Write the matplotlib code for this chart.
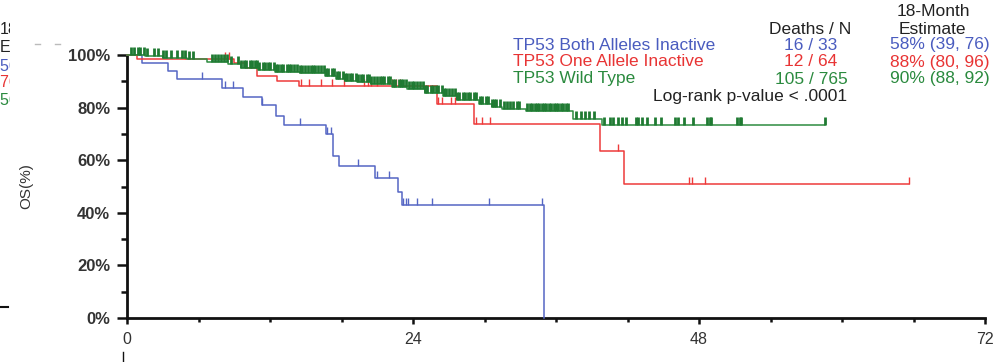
import matplotlib
matplotlib.use("Agg")
import matplotlib.pyplot as plt
import matplotlib.markers as mmarkers
from matplotlib.lines import Line2D
from matplotlib.transforms import Bbox
from matplotlib.ticker import MultipleLocator, FixedLocator

plt.rcParams['font.family'] = ['Liberation Sans', 'DejaVu Sans']

# ---------------- data ----------------
group_names = ["TP53 Both Alleles Inactive", "TP53 One Allele Inactive", "TP53 Wild Type"]
deaths_n = ["16 / 33", "12 / 64", "105 / 765"]
estimates = ["58% (39, 76)", "88% (80, 96)", "90% (88, 92)"]
pvalue_text = "Log-rank p-value < .0001"

# Both alleles inactive (months, survival % after the step)
both_t = [0, 1.3, 3.4, 4.2, 8.0, 9.7, 11.3, 12.5, 13.2, 16.7, 17.3, 17.8, 20.8, 22.7, 23.1, 35.0]
both_s = [100, 97.0, 94.0, 90.8, 87.4, 84.0, 80.8, 76.9, 73.4, 69.8, 61.6, 57.7, 53.4, 47.9, 43.0, 0]
both_cens = [6.3, 8.2, 8.9, 11.3, 14.5, 16.8, 17.1, 19.4, 21.0, 22.0, 23.2, 23.4, 23.6,
             24.3, 25.6, 30.4, 34.8]

# One allele inactive
one_t = [0, 0.8, 9.0, 10.0, 10.9, 12.6, 14.4, 26.0, 29.1, 39.7, 41.7, 65.6]
one_s = [100, 98.3, 96.8, 95.2, 92.0, 90.2, 88.3, 81.4, 73.8, 63.5, 50.8, 50.8]
one_cens = [4.9, 8.2, 8.6, 14.6, 15.3, 16.3, 17.2, 18.2, 19.9, 20.2, 20.5, 21.0, 22.2,
            22.6, 22.9, 26.1, 26.4, 27.2, 27.5, 29.3, 29.8, 30.5, 41.2, 47.2, 47.4,
            48.5, 65.6]

# Wild type
wild_t = [0, 1.5, 3.0, 5.0, 6.7, 8.5, 9.6, 11.0, 12.4, 14.5, 16.6, 17.5, 18.3, 19.3, 20.5,
          22.2, 23.5, 25.0, 26.5, 27.7, 29.5, 30.6, 31.5, 33.5, 37.4, 39.9, 58.6]
wild_s = [100, 99.5, 99.0, 98.3, 97.5, 96.6, 95.2, 94.2, 93.7, 93.0, 92.2, 91.0, 90.2, 89.6,
          88.9, 88.0, 86.9, 85.6, 84.3, 83.0, 81.5, 80.3, 79.6, 78.6, 75.8, 73.5, 73.5]
wild_cens = [0.3, 0.6, 0.9, 1.1, 1.4, 1.7, 2.3, 2.6, 3.0, 3.3, 3.7, 4.2, 4.6, 4.9, 5.2, 5.5,
             7.1, 7.4, 7.6, 7.9, 8.1, 8.4, 8.7, 9.3, 9.6, 9.8, 10.0, 10.3, 10.5, 10.7, 10.9,
             11.1, 11.4, 11.6, 11.8, 12.0, 12.3, 12.5, 12.7, 12.9, 13.1, 13.4, 13.6, 13.8,
             14.0, 14.3, 14.5, 14.7, 14.9, 15.2, 15.4, 15.6, 15.8, 16.0, 16.3, 16.5, 16.7,
             16.9, 17.2, 17.4, 17.6, 17.8, 18.1, 18.3, 18.5, 18.7, 18.9, 19.2, 19.4, 19.6,
             19.8, 20.1, 20.3, 20.5, 20.7, 21.0, 21.2, 21.4, 21.6, 21.9, 22.1, 22.3, 22.5,
             22.8, 23.0, 23.2, 23.4, 23.7, 23.9, 24.1, 24.3, 24.6, 24.8, 25.0, 25.2, 25.5,
             25.7, 25.9, 26.1, 26.4, 26.6, 26.8, 27.0, 27.3, 27.5, 27.7, 27.9, 28.2, 28.4,
             28.6, 28.8, 29.1, 29.3, 29.6, 29.8, 30.1, 30.3, 30.6, 30.8, 31.0, 31.3, 31.6,
             31.9, 32.1, 32.4, 32.7, 32.9, 33.6, 33.8, 34.0, 34.2, 34.4, 34.6, 34.8, 35.0,
             35.2, 35.4, 35.6, 35.8, 36.0, 36.2, 36.4, 36.6, 36.8, 37.0, 37.7, 38.1, 38.4,
             38.8, 39.2, 40.0, 40.5, 40.8, 41.2, 41.5, 41.9, 42.7, 42.9, 43.2, 43.6, 44.3,
             44.8, 46.0, 46.2, 46.7, 47.5, 48.7, 48.9, 49.0, 51.2, 51.4, 51.5, 58.6]

line_colors = ["#5566c4", "#ee3a3a", "#2e8b40"]
tick_colors = ["#5566c4", "#ee3a3a", "#1f7a32"]
text_colors = ["#4a5cbf", "#e83434", "#2a8a3e"]

# ---------------- figure ----------------
W, H = 1001, 362
fig = plt.figure(figsize=(W / 100, H / 100), dpi=100)

def fx(px):
    return px / W

def fy(py):
    return 1 - py / H

ax = fig.add_axes([fx(127), fy(318), (985 - 127) / W, (318 - 55) / H])
ax.set_xlim(0, 72)
ax.set_ylim(0, 100)


def surv_value(ts, ss, t):
    v = ss[0]
    for ti, si in zip(ts, ss):
        if ti <= t:
            v = si
    return v


series = [(both_t, both_s, both_cens), (one_t, one_s, one_cens), (wild_t, wild_s, wild_cens)]
mews = [1.0, 1.0, 2.0]
msizes = [5, 5, 5.5]
for (ts, ss, cs), lc, tc, mew, ms in zip(series, line_colors, tick_colors, mews, msizes):
    ax.step(ts, ss, where="post", color=lc, lw=1.1, clip_on=False, zorder=3)
    cy = [surv_value(ts, ss, t) for t in cs]
    ax.plot(cs, cy, linestyle="none", marker=mmarkers.TICKUP, markersize=ms,
            markeredgewidth=mew, color=tc, clip_on=False, zorder=3)

# axes styling
for s in ["top", "right"]:
    ax.spines[s].set_visible(False)
for s in ["left", "bottom"]:
    ax.spines[s].set_linewidth(2.0)
    ax.spines[s].set_color("#111111")

ax.xaxis.set_major_locator(FixedLocator([0, 24, 48, 72]))
ax.xaxis.set_minor_locator(MultipleLocator(6))
ax.yaxis.set_major_locator(FixedLocator([0, 20, 40, 60, 80, 100]))
ax.yaxis.set_minor_locator(MultipleLocator(10))
ax.set_yticklabels(["0%", "20%", "40%", "60%", "80%", "100%"])
ax.set_xticklabels(["0", "24", "48", "72"])
ax.tick_params(axis="y", which="major", direction="out", length=7, width=1.8, pad=5,
               labelsize=12, labelcolor="#333333", color="#111111")
ax.tick_params(axis="y", which="minor", direction="out", length=4, width=1.8, color="#111111")
ax.tick_params(axis="x", which="major", direction="out", length=4, width=1.8, pad=6,
               labelsize=11.5, labelcolor="#333333", color="#111111")
ax.tick_params(axis="x", which="minor", direction="out", length=3, width=1.8, color="#111111")
for lab in ax.get_yticklabels():
    lab.set_fontweight("bold")

ax.set_ylabel("OS(%)", fontsize=11, color="#333333")
ax.yaxis.set_label_coords((33 - 127) / (985 - 127), 0.5)

# legend table
fs = 12.5
fig.text(fx(933), fy(12), "18-Month", ha="center", va="center", fontsize=fs, color="#222222")
fig.text(fx(932), fy(30), "Estimate", ha="center", va="center", fontsize=fs, color="#222222")
fig.text(fx(810), fy(30), "Deaths / N", ha="center", va="center", fontsize=fs, color="#222222")
rows_y = [45, 62, 79]
for name, dn, est, c, yy in zip(group_names, deaths_n, estimates, text_colors, rows_y):
    fig.text(fx(513), fy(yy), name, ha="left", va="center", fontsize=fs, color=c)
    fig.text(fx(811), fy(yy), dn, ha="center", va="center", fontsize=fs, color=c)
    fig.text(fx(990), fy(yy), est, ha="right", va="center", fontsize=fs, color=c)
fig.text(fx(750), fy(97), pvalue_text, ha="center", va="center", fontsize=fs, color="#222222")

# fragments of the neighbouring panel at the left edge
clip = Bbox.from_extents(0, 0, 10, H)
frag = [("18-Month", 30, "#222222"), ("Estimate", 48, "#222222"),
        ("56% (", 66, text_colors[0]), ("76% (", 82, text_colors[1]), ("56% (", 100, text_colors[2])]
for s, yy, c in frag:
    t = fig.text(fx(0), fy(yy), s, ha="left", va="center", fontsize=11.5, color=c)
    t.set_clip_box(clip)
    t.set_clip_on(True)
fig.add_artist(Line2D([fx(0), fx(8)], [fy(307), fy(307)], color="#111111", lw=1.5))
fig.add_artist(Line2D([fx(123), fx(123)], [fy(352), fy(362)], color="#111111", lw=1.0))
fig.add_artist(Line2D([fx(35), fx(40)], [fy(44), fy(44)], color="#bbbbbb", lw=1.0))
fig.add_artist(Line2D([fx(55), fx(60)], [fy(44), fy(44)], color="#bbbbbb", lw=1.0))

fig.savefig("out.png", dpi=100)
